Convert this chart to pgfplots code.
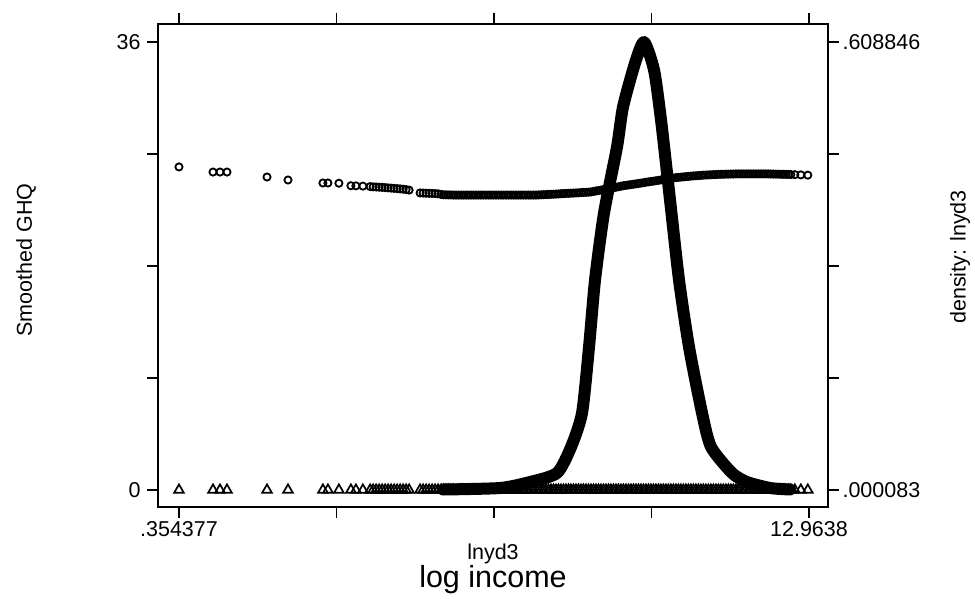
\documentclass[border=0pt]{standalone}
\usepackage{fontspec}
\setmainfont{Liberation Sans}
\usepackage{pgfplots}
\usepackage{pgfplotstable}
\pgfplotsset{compat=1.18}
\pgfplotstableread{
x g z
0.354 25.96 0
1.035 25.55 0
1.175 25.55 0
1.315 25.55 0
2.116 25.15 0
2.536 24.91 0
3.235 24.67 0
3.335 24.67 0
3.555 24.65 0
3.795 24.45 0
3.895 24.44 0
4.035 24.42 0
4.18 24.38 0
4.24 24.36 0
4.30 24.35 0
4.36 24.33 0
4.42 24.32 0
4.48 24.30 0
4.54 24.28 0
4.60 24.26 0
4.66 24.24 0
4.72 24.22 0
4.78 24.20 0
4.84 24.17 0
4.90 24.14 0
4.96 24.10 0
5.18 23.87 0
5.24 23.86 0
5.30 23.85 0
5.36 23.84 0
5.42 23.83 0
5.48 23.82 0
5.54 23.80 0
5.60 23.75 0
5.65 23.72 0
5.70 23.72 0
5.75 23.71 0
5.80 23.71 0
5.85 23.70 0
5.90 23.70 0
5.95 23.70 0
6.00 23.70 0
6.05 23.70 0
6.10 23.70 0
6.15 23.70 0
6.20 23.70 0
6.25 23.70 0
6.30 23.70 0
6.35 23.70 0
6.40 23.70 0
6.45 23.70 0
6.50 23.70 0
6.55 23.70 0
6.60 23.70 0
6.65 23.70 0
6.70 23.70 0
6.75 23.70 0
6.80 23.70 0
6.85 23.70 0
6.90 23.70 0
6.95 23.70 0
7.00 23.70 0
7.05 23.70 0
7.10 23.70 0
7.15 23.70 0
7.20 23.70 0
7.25 23.70 0
7.30 23.70 0
7.35 23.70 0
7.40 23.70 0
7.45 23.70 0
7.50 23.70 0
7.55 23.71 0
7.60 23.72 0
7.65 23.73 0
7.70 23.74 0
7.75 23.75 0
7.80 23.76 0
7.85 23.77 0
7.90 23.78 0
7.95 23.79 0
8.00 23.81 0
8.05 23.82 0
8.10 23.83 0
8.15 23.84 0
8.20 23.85 0
8.25 23.86 0
8.30 23.87 0
8.35 23.88 0
8.40 23.90 0
8.45 23.91 0
8.50 23.92 0
8.55 23.93 0
8.60 23.95 0
8.65 23.99 0
8.70 24.03 0
8.75 24.06 0
8.80 24.10 0
8.85 24.14 0
8.90 24.18 0
8.95 24.22 0
9.00 24.26 0
9.05 24.29 0
9.10 24.33 0
9.15 24.37 0
9.20 24.41 0
9.25 24.45 0
9.30 24.48 0
9.35 24.51 0
9.40 24.54 0
9.45 24.57 0
9.50 24.60 0
9.55 24.63 0
9.60 24.66 0
9.65 24.69 0
9.70 24.73 0
9.75 24.76 0
9.80 24.79 0
9.85 24.82 0
9.90 24.85 0
9.95 24.88 0
10.00 24.92 0
10.05 24.95 0
10.10 24.98 0
10.15 25.01 0
10.20 25.04 0
10.25 25.07 0
10.30 25.10 0
10.35 25.12 0
10.40 25.14 0
10.45 25.16 0
10.50 25.18 0
10.55 25.20 0
10.60 25.22 0
10.65 25.24 0
10.70 25.25 0
10.75 25.27 0
10.80 25.28 0
10.85 25.30 0
10.90 25.31 0
10.95 25.32 0
11.00 25.33 0
11.05 25.34 0
11.10 25.35 0
11.15 25.36 0
11.20 25.37 0
11.25 25.37 0
11.30 25.38 0
11.35 25.38 0
11.40 25.39 0
11.45 25.39 0
11.50 25.40 0
11.55 25.40 0
11.60 25.40 0
11.65 25.40 0
11.70 25.40 0
11.75 25.40 0
11.80 25.40 0
11.85 25.40 0
11.90 25.40 0
11.95 25.40 0
12.00 25.40 0
12.05 25.40 0
12.10 25.40 0
12.15 25.40 0
12.20 25.39 0
12.25 25.39 0
12.30 25.38 0
12.35 25.38 0
12.40 25.37 0
12.45 25.37 0
12.50 25.36 0
12.55 25.36 0
12.60 25.35 0
12.68 25.34 0
12.80 25.32 0
12.94 25.30 0
}\ghq
\pgfplotstableread{
x d
5.639 0.00076
6.780 0.00280
7.380 0.01095
7.920 0.02318
8.201 0.05851
8.421 0.10471
8.561 0.19439
8.681 0.28543
8.861 0.37647
9.121 0.46615
9.241 0.52050
9.482 0.58029
9.662 0.60884
9.862 0.57079
10.002 0.50285
10.182 0.39414
10.362 0.28543
10.562 0.19439
10.823 0.10471
11.003 0.05851
11.423 0.02318
11.723 0.01095
12.183 0.00280
12.584 0.00076
}\dens
\begin{document}
\begin{tikzpicture}
\path[use as bounding box] (-158pt,-91pt) rectangle (817pt,507pt);
\begin{axis}[at={(0pt,0pt)}, anchor=south west, scale only axis,
  width=670pt, height=483pt,
  xmin=-0.0659, xmax=13.344, ymin=-1.366, ymax=37.446,
  axis line style={line width=1.2pt},
  every tick/.style={black, line width=1.2pt},
  major tick length=11pt, tick align=outside,
  xtick={0.354377,3.5067,6.6591,9.8115,12.9638},
  xticklabels={.354377,,,,12.9638},
  ytick={0,9,18,27,36}, yticklabels={0,,,,36},
  tick label style={font=\fontsize{21.5}{25}\selectfont},
  yticklabel style={xshift=-3pt},
  minor tick num=0]
\addplot[black, only marks, mark=o, mark size=3.6pt, line width=1.8pt] table[x=x,y=g]{\ghq};
\addplot[black, only marks, mark=triangle, mark size=5.6pt, line width=1.7pt] table[x=x,y=z]{\ghq};
\end{axis}
\begin{axis}[at={(0pt,0pt)}, anchor=south west, scale only axis,
  width=670pt, height=483pt,
  xmin=-0.0659, xmax=13.344, ymin=-0.023017, ymax=0.633305,
  hide x axis, axis y line*=right,
  axis line style={line width=1.2pt},
  every tick/.style={black, line width=1.2pt},
  major tick length=11pt, tick align=outside,
  ytick={0.000083,0.608846}, yticklabels={.000083,.608846},
  tick label style={font=\fontsize{21.5}{25}\selectfont},
  minor tick num=0]
\addplot[black, line width=12pt, line join=round, line cap=round, smooth, tension=0.4] table[x=x,y=d]{\dens};
\end{axis}
\node[rotate=90, font=\fontsize{21.5}{25}\selectfont] at (-132pt,247pt) {Smoothed GHQ};
\node[rotate=90, font=\fontsize{21.5}{25}\selectfont] at (802pt,250pt) {density: lnyd3};
\node[anchor=base, font=\fontsize{21.5}{25}\selectfont] at (335pt,-52pt) {lnyd3};
\node[anchor=base, font=\fontsize{30.5}{35}\selectfont] at (335pt,-80pt) {log income};
\end{tikzpicture}
\end{document}
